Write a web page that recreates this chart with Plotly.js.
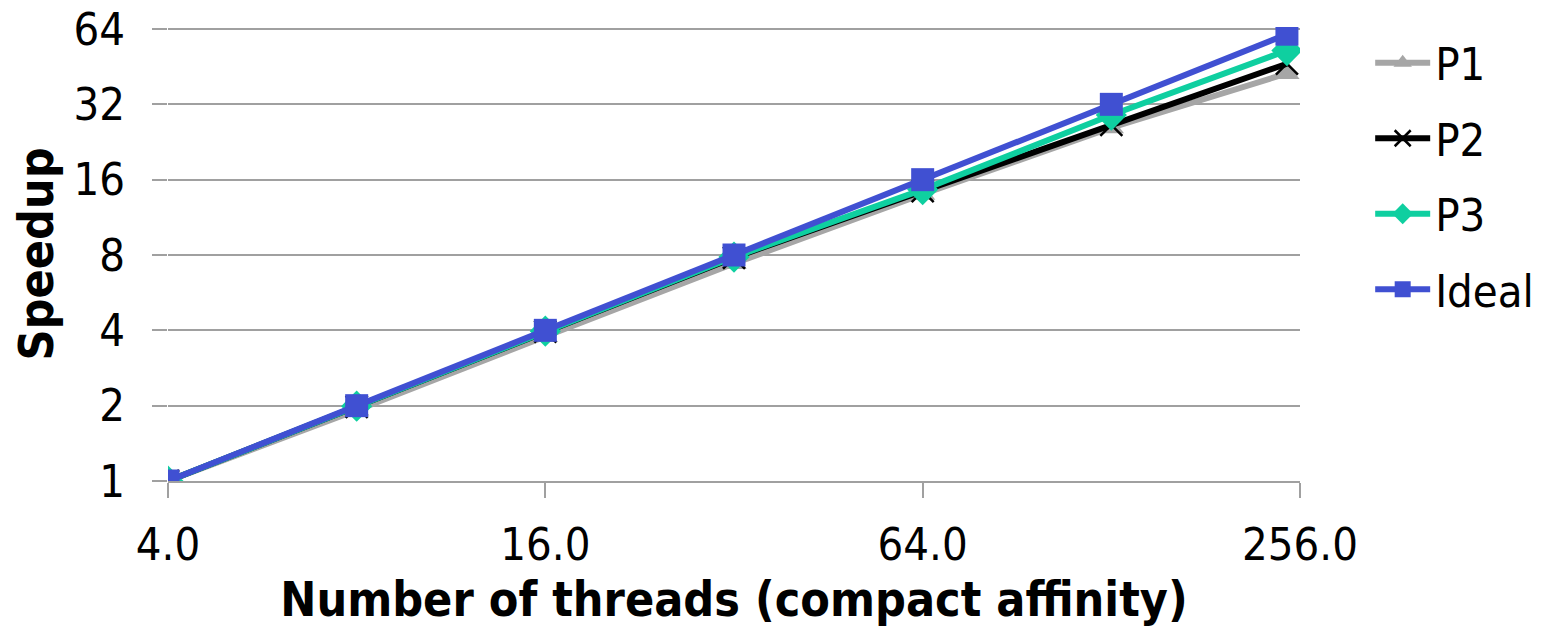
<!DOCTYPE html>
<html>
<head>
<meta charset="utf-8">
<script src="https://cdn.plot.ly/plotly-3.0.1.min.js"></script>
<style>html,body{margin:0;padding:0;background:#fff;}#chart{width:1547px;height:636px;}</style>
</head>
<body>
<div id="chart"></div>
<script>
const threads = [4, 8, 16, 32, 64, 128, 244];
const p1 = [1, 1.92, 3.78, 7.4, 14.0, 25.8, 42.5];
const p2 = [1, 1.98, 3.95, 7.8, 14.4, 26.5, 46.5];
const p3 = [1, 1.99, 3.97, 7.85, 14.6, 29.0, 52.5];
const ideal = [1, 2, 4, 8, 16, 32, 61];
const xTickVals = [4, 16, 64, 256];
const xTickText = ['4.0', '16.0', '64.0', '256.0'];
const yTickVals = [1, 2, 4, 8, 16, 32, 64];
const yTickText = ['1', '2', '4', '8', '16', '32', '64'];

const FONT = '"DejaVu Sans Condensed", "Liberation Sans", sans-serif';
const EPS = 0.008;

const traces = [
  {x: threads, y: p1, name: 'P1', legendgroup: 'a', mode: 'lines+markers',
   line: {color: '#A6A6A6', width: 6},
   marker: {symbol: 'triangle-up', size: 22, color: '#A6A6A6'}},
  {x: threads, y: p2, name: 'P2', legendgroup: 'b', mode: 'lines+markers',
   line: {color: '#000000', width: 6},
   marker: {symbol: 'x-thin', size: 22, color: '#000000', line: {color: '#000000', width: 2.5}}},
  {x: threads, y: p3, name: 'P3', legendgroup: 'c', mode: 'lines+markers',
   line: {color: '#0FCFA0', width: 6},
   marker: {symbol: 'diamond', size: 24, color: '#0FCFA0'}},
  {x: threads, y: ideal, name: 'Ideal', legendgroup: 'd', mode: 'lines+markers',
   line: {color: '#4050D2', width: 6},
   marker: {symbol: 'square', size: 23, color: '#4050D2'}}
];

const layout = {
  width: 1547, height: 636,
  paper_bgcolor: '#ffffff', plot_bgcolor: '#ffffff',
  margin: {l: 168, r: 247, t: 27, b: 155, autoexpand: false},
  font: {family: FONT, size: 45, color: '#000'},
  xaxis: {
    type: 'log', range: [Math.log10(4), Math.log10(256)],
    tickvals: xTickVals, ticktext: xTickText,
    showgrid: false, zeroline: false,
    showline: true, linecolor: '#A0A0A0', linewidth: 2,
    ticks: 'outside', ticklen: 15, tickcolor: '#A0A0A0', tickwidth: 2,
    ticklabelstandoff: 8,
    tickfont: {family: FONT, size: 45, color: '#000'},
    title: {text: '<b>Number of threads (compact affinity)</b>', font: {family: FONT, size: 48, color: '#000'}, standoff: 12}
  },
  yaxis: {
    type: 'log', range: [0, Math.log10(64) + EPS],
    tickvals: yTickVals, ticktext: yTickText,
    showgrid: true, gridcolor: '#A0A0A0', gridwidth: 2,
    zeroline: false, showline: false,
    ticks: 'outside', ticklen: 15, tickcolor: '#A0A0A0', tickwidth: 2,
    ticklabelstandoff: 18, ticklabeloverflow: 'allow',
    tickfont: {family: FONT, size: 45, color: '#000'},
    title: {text: '<b>Speedup</b>', font: {family: FONT, size: 48, color: '#000'}, standoff: 4}
  },
  showlegend: true,
  legend: {x: 1.062, xanchor: 'left', y: 1.0, yanchor: 'top',
    font: {family: FONT, size: 45, color: '#000'},
    itemwidth: 55, tracegroupgap: 14, bgcolor: 'rgba(0,0,0,0)'}
};

Plotly.newPlot('chart', traces, layout, {staticPlot: true, displayModeBar: false});
</script>
</body>
</html>
